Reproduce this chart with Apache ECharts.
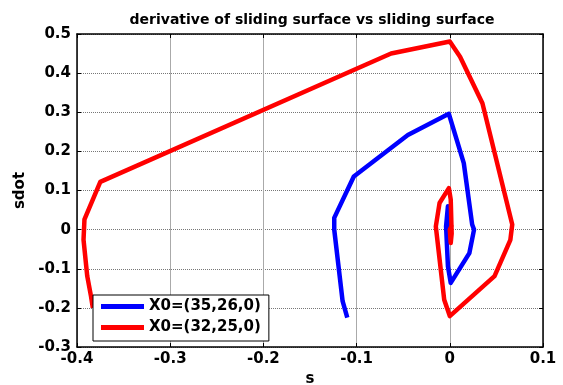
<!DOCTYPE html>
<html>
<head>
<meta charset="utf-8">
<script src="https://cdn.jsdelivr.net/npm/echarts@6/dist/echarts.min.js"></script>
<style>
  html, body { margin: 0; padding: 0; background: #fff; }
  #main { width: 563px; height: 385px; }
</style>
</head>
<body>
<div id="main"></div>
<script>
// 数据：s 与 sdot
var sBlue = [-0.110, -0.115, -0.124, -0.124, -0.103, -0.045, -0.001, 0.015, 0.024, 0.026, 0.021, 0.001, -0.002, -0.004, -0.002, 0.000, 0.001];
var sdotBlue = [-0.225, -0.183, 0.000, 0.030, 0.136, 0.242, 0.296, 0.170, 0.013, 0.000, -0.060, -0.136, -0.094, 0.008, 0.060, 0.020, 0.000];

var sRed = [-0.383, -0.385, -0.389, -0.393, -0.392, -0.375, -0.063, 0.000, 0.011, 0.035, 0.067, 0.065, 0.048, 0.000, -0.006, -0.015, -0.011, -0.001, 0.001, 0.002, 0.001, 0.000, 0.002, 0.001];
var sdotRed = [-0.200, -0.170, -0.119, -0.026, 0.026, 0.122, 0.450, 0.481, 0.442, 0.323, 0.013, -0.026, -0.119, -0.221, -0.179, 0.008, 0.068, 0.106, 0.077, -0.010, -0.034, 0.000, 0.010, -0.005];

var seriesNames = ["X0=(35,26,0)", "X0=(32,25,0)"];
var xTicks = [-0.4, 0.1, 0.1];   // min, max, interval
var yTicks = [-0.3, 0.5, 0.1];

var titleText = "derivative of sliding surface vs sliding surface";

function pairs(xs, ys) {
    return xs.map(function (x, i) { return [x, ys[i]]; });
}
function fmt(v) {
    return String(Math.round(v * 10) / 10);
}

var font = "DejaVu Sans";
var boldText = { fontFamily: font, fontWeight: "bold", fontSize: 15, color: "#000" };
var myChart = echarts.init(document.getElementById("main"));

var option = {
    animation: false,
    title: {
        text: titleText,
        left: 307,
        textAlign: "center",
        top: 8,
        textStyle: { fontFamily: font, fontWeight: "bold", fontSize: 14, color: "#000" }
    },
    legend: {
        orient: "vertical",
        left: 93,
        top: 295,
        backgroundColor: "#fff",
        borderColor: "#000",
        borderWidth: 1,
        padding: [4, 8, 6, 8],
        itemGap: 6,
        itemWidth: 43,
        itemHeight: 5,
        itemTextGap: 4,
        icon: "rect",
        textStyle: boldText,
        data: seriesNames
    },
    grid: {
        left: 77,
        right: 20,
        top: 34,
        bottom: 38,
        outerBoundsMode: "none",
        containLabel: false
    },
    xAxis: [
        {
            type: "value",
            min: xTicks[0], max: xTicks[1], interval: xTicks[2],
            name: "s",
            nameLocation: "middle",
            nameGap: 24,
            nameTextStyle: boldText,
            axisLine: { onZero: false, lineStyle: { color: "#000", width: 1.5 } },
            axisTick: { inside: true, length: 4, lineStyle: { color: "#000" } },
            axisLabel: { formatter: fmt, fontFamily: font, fontWeight: "bold", fontSize: 15, color: "#000", margin: 5 },
            splitLine: { show: true, lineStyle: { color: "#aaa", type: "solid", width: 1 } }
        },
        {
            type: "value", position: "top",
            min: xTicks[0], max: xTicks[1], interval: xTicks[2],
            axisLine: { onZero: false, lineStyle: { color: "#000", width: 1.5 } },
            axisTick: { inside: true, length: 4, lineStyle: { color: "#000" } },
            axisLabel: { show: false },
            splitLine: { show: false }
        }
    ],
    yAxis: [
        {
            type: "value",
            min: yTicks[0], max: yTicks[1], interval: yTicks[2],
            name: "sdot",
            nameLocation: "middle",
            nameGap: 43,
            nameTextStyle: boldText,
            axisLine: { onZero: false, lineStyle: { color: "#000", width: 1.5 } },
            axisTick: { inside: true, length: 4, lineStyle: { color: "#000" } },
            axisLabel: { formatter: fmt, fontFamily: font, fontWeight: "bold", fontSize: 15, color: "#000", margin: 6 },
            splitLine: { show: true, lineStyle: { color: "#777", type: "dotted", width: 1 } }
        },
        {
            type: "value", position: "right",
            min: yTicks[0], max: yTicks[1], interval: yTicks[2],
            axisLine: { onZero: false, lineStyle: { color: "#000", width: 1.5 } },
            axisTick: { inside: true, length: 4, lineStyle: { color: "#000" } },
            axisLabel: { show: false },
            splitLine: { show: false }
        }
    ],
    series: [
        {
            name: seriesNames[0],
            type: "line",
            showSymbol: false,
            lineStyle: { color: "#0000ff", width: 4.5, join: "round" },
            itemStyle: { color: "#0000ff" },
            data: pairs(sBlue, sdotBlue)
        },
        {
            name: seriesNames[1],
            type: "line",
            showSymbol: false,
            lineStyle: { color: "#ff0000", width: 4.5, join: "round" },
            itemStyle: { color: "#ff0000" },
            data: pairs(sRed, sdotRed)
        }
    ]
};

myChart.setOption(option);
</script>
</body>
</html>
